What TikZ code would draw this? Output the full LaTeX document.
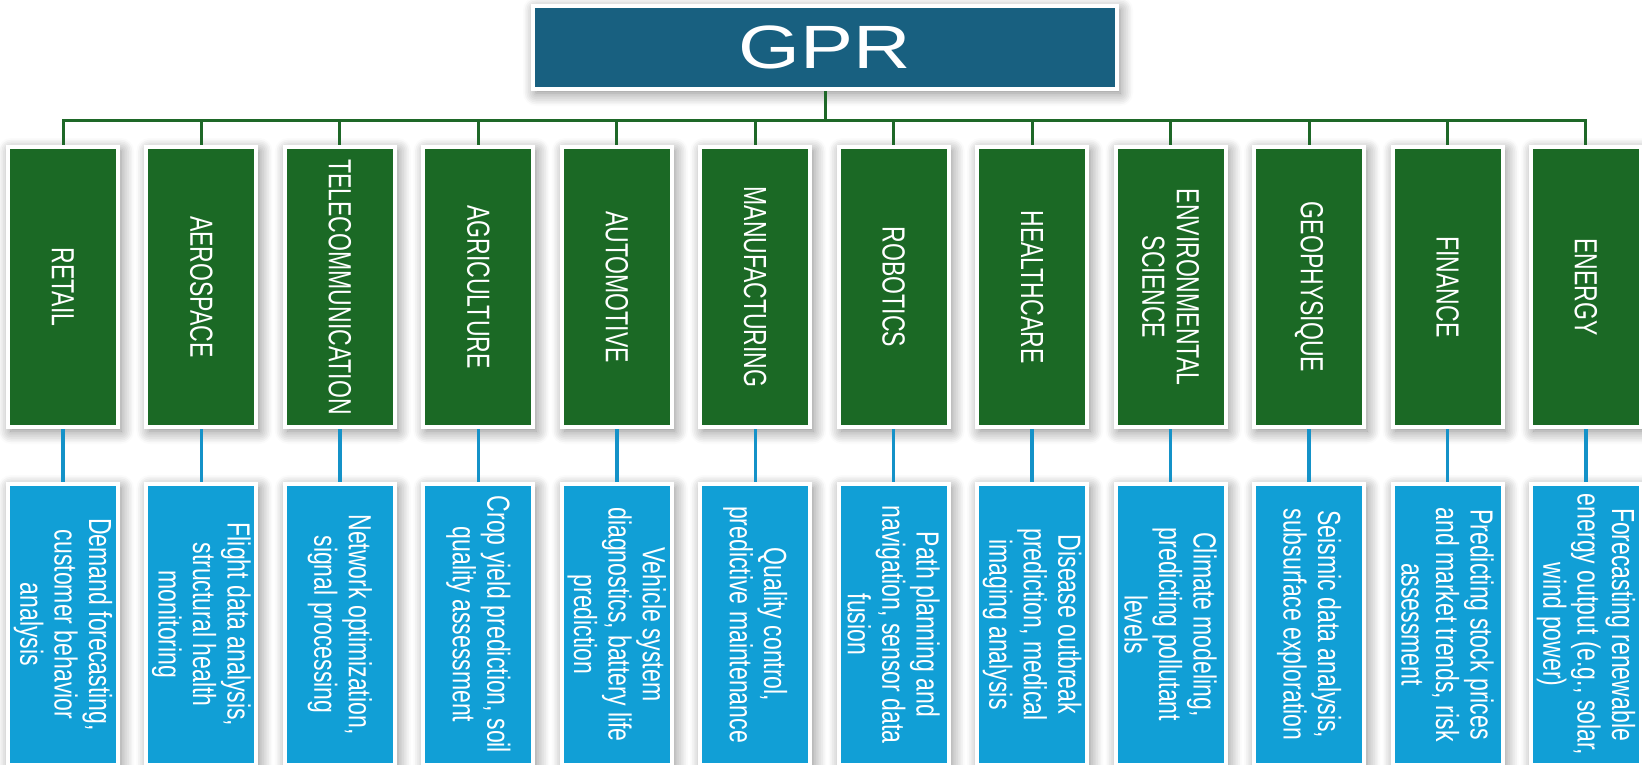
\documentclass[tikz,border=0pt]{standalone}
\usepackage{fontspec}
\usepackage{tikz}
\usetikzlibrary{graphs,shadows.blur}
\setmainfont{Liberation Sans}
\newfontfamily\narrowfont[FakeStretch=0.72]{Liberation Sans}
\newfontfamily\widefont[FakeStretch=1.3]{Liberation Sans}
\definecolor{gprblue}{RGB}{24,96,128}
\definecolor{fieldgreen}{RGB}{27,105,37}
\definecolor{usecyan}{RGB}{17,159,214}
\definecolor{busgreen}{RGB}{30,104,40}
\definecolor{stemblue}{RGB}{20,146,200}
\tikzset{
    softshadow/.style={
        blur shadow={shadow xshift=0.3mm, shadow yshift=-0.4mm,
            shadow blur radius=1.3mm, shadow blur steps=8, shadow opacity=50},
    },
    rootnode/.style={
        draw=white,
        line width=0.4mm,
        fill=gprblue,
        minimum width=58.4mm,
        minimum height=8.3mm,
        text=white,
        font=\widefont\fontsize{17.4}{20}\selectfont,
        softshadow,
    },
    fieldnode/.style={
        draw=white,
        line width=0.4mm,
        fill=fieldgreen,
        rotate=-90,
        minimum width=28mm,
        minimum height=11mm,
        inner sep=0,
        align=center,
        text=white,
        font=\narrowfont\fontsize{9.1}{9.8}\selectfont,
        softshadow,
    },
    usenode/.style={
        fieldnode,
        fill=usecyan,
        minimum width=28.1mm,
    },
    bus edge/.style={
        draw=busgreen,
        line width=0.3mm,
        to path={(\tikztostart) -- (\tikztostart |- bus) -| (\tikztotarget)},
    },
    stem/.style={
        draw=stemblue,
        line width=0.35mm,
    },
}

\begin{document}
\begin{tikzpicture}
    \useasboundingbox (0, 0) rectangle (16.42, -7.65) ;

    \node[rootnode] at (8.25, -0.475) (G) {GPR} ;
    \coordinate (bus) at (8.25, -1.2) ;

    % application fields
    \node[fieldnode] at (0.630, -2.87) (F1) {RETAIL} ;
    \node[fieldnode] at (2.0145, -2.87) (F2) {AEROSPACE} ;
    \node[fieldnode] at (3.399, -2.87) (F3) {TELECOMMUNICATION} ;
    \node[fieldnode] at (4.7835, -2.87) (F4) {AGRICULTURE} ;
    \node[fieldnode] at (6.168, -2.87) (F5) {AUTOMOTIVE} ;
    \node[fieldnode] at (7.5525, -2.87) (F6) {MANUFACTURING} ;
    \node[fieldnode] at (8.937, -2.87) (F7) {ROBOTICS} ;
    \node[fieldnode] at (10.3215, -2.87) (F8) {HEALTHCARE} ;
    \node[fieldnode] at (11.706, -2.87) (F9) {ENVIRONMENTAL\\SCIENCE} ;
    \node[fieldnode] at (13.0905, -2.87) (F10) {GEOPHYSIQUE} ;
    \node[fieldnode] at (14.475, -2.87) (F11) {FINANCE} ;
    \node[fieldnode] at (15.8595, -2.87) (F12) {ENERGY} ;

    % uses in each field
    \node[usenode] at (0.630, -6.245) (U1) {Demand forecasting,\\customer behavior\\analysis} ;
    \node[usenode] at (2.0145, -6.245) (U2) {Flight data analysis,\\structural health\\monitoring} ;
    \node[usenode] at (3.399, -6.245) (U3) {Network optimization,\\signal processing} ;
    \node[usenode] at (4.7835, -6.245) (U4) {Crop yield prediction, soil\\quality assessment} ;
    \node[usenode] at (6.168, -6.245) (U5) {Vehicle system\\diagnostics, battery life\\prediction} ;
    \node[usenode] at (7.5525, -6.245) (U6) {Quality control,\\predictive maintenance} ;
    \node[usenode] at (8.937, -6.245) (U7) {Path planning and\\navigation, sensor data\\fusion} ;
    \node[usenode] at (10.3215, -6.245) (U8) {Disease outbreak\\prediction, medical\\imaging analysis} ;
    \node[usenode] at (11.706, -6.245) (U9) {Climate modeling,\\predicting pollutant\\levels} ;
    \node[usenode] at (13.0905, -6.245) (U10) {Seismic data analysis,\\subsurface exploration} ;
    \node[usenode] at (14.475, -6.245) (U11) {Predicting stock prices\\and market trends, risk\\assessment} ;
    \node[usenode] at (15.8595, -6.245) (U12) {Forecasting renewable\\energy output (e.g., solar,\\wind power)} ;

    \graph[use existing nodes, edges={bus edge}]{
        G -- {F1, F2, F3, F4, F5, F6, F7, F8, F9, F10, F11, F12} ;
    } ;

    \graph[use existing nodes, edges={stem}]{
        F1 -- U1 ; F2 -- U2 ; F3 -- U3 ; F4 -- U4 ;
        F5 -- U5 ; F6 -- U6 ; F7 -- U7 ; F8 -- U8 ;
        F9 -- U9 ; F10 -- U10 ; F11 -- U11 ; F12 -- U12 ;
    } ;
\end{tikzpicture}
\end{document}
